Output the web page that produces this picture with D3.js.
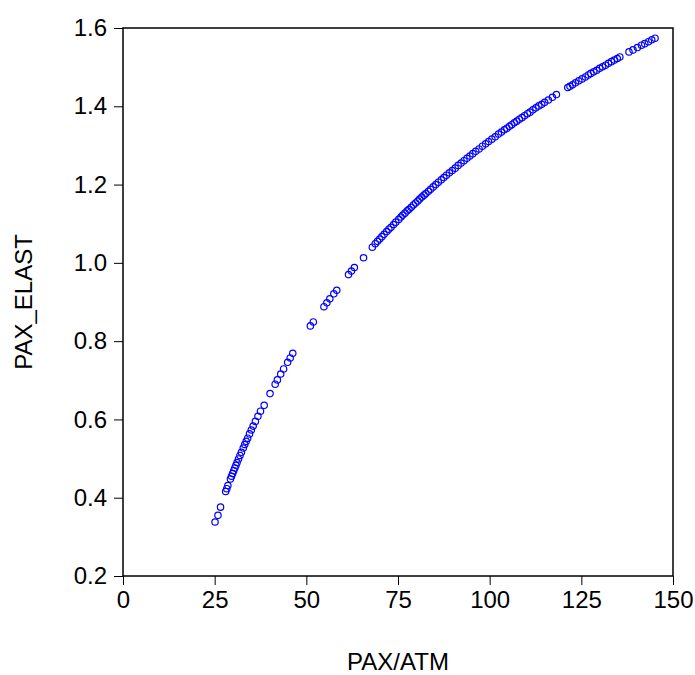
<!DOCTYPE html>
<html>
<head>
<meta charset="utf-8">
<script src="https://cdn.jsdelivr.net/npm/d3@7"></script>
<style>
html,body{margin:0;padding:0;background:#fff;}
svg{display:block;}
text{font-family:"Liberation Sans",Arial,sans-serif;}
</style>
</head>
<body>
<svg id="chart" width="695" height="675"></svg>
<script>
const xLabel = "PAX/ATM";
const yLabel = "PAX_ELAST";
const xTicks = [0, 25, 50, 75, 100, 125, 150];
const yTicks = [0.2, 0.4, 0.6, 0.8, 1.0, 1.2, 1.4, 1.6];
const paxAtm = [
  25.1, 25.9, 26.6, 28.0, 28.3, 28.6, 29.3, 29.6, 29.9, 30.2, 30.5, 30.8, 31.1, 31.5, 31.9, 32.3,
  32.8, 33.2, 33.6, 34.0, 34.5, 35.0, 35.5, 36.1, 36.8, 37.5, 38.5, 40.1, 41.5, 42.1, 43.0, 43.8,
  44.9, 45.6, 46.3, 51.1, 51.9, 54.8, 55.6, 56.4, 57.5, 58.3, 61.5, 62.3, 63.1, 65.6,
  68.0, 68.8, 69.4, 70.0, 70.6, 71.2, 71.9, 72.5, 73.1, 73.8, 74.4, 75.2, 75.8, 76.3, 76.9, 77.5,
  78.0, 78.6, 79.2, 79.8, 80.4, 80.9, 81.5, 82.1, 82.6, 83.3, 83.9, 84.6, 85.3, 86.0, 86.8, 87.5,
  88.2, 89.0, 89.8, 90.6, 91.4, 92.2, 93.0, 93.8, 94.6, 95.4, 96.2, 97.1, 98.0, 98.9, 99.7, 100.6,
  101.5, 102.4, 103.2, 104.0, 104.7, 105.4, 106.0, 106.7, 107.4, 108.1, 108.8, 109.5, 110.3, 111.0,
  111.8, 112.6, 113.4, 114.2, 115.0, 116.0, 117.1, 118.2, 121.3, 121.9, 122.6, 123.4, 124.3, 125.2,
  126.1, 126.9, 127.6, 128.4, 129.2, 130.0, 130.8, 131.6, 132.4, 133.2, 134.0, 134.8, 135.5,
  138.0, 139.1, 140.3, 141.4, 142.3, 143.3, 144.2, 145.1
];
const paxElast = [
  0.338, 0.355, 0.376, 0.416, 0.423, 0.431, 0.448, 0.455, 0.462, 0.469, 0.476, 0.483, 0.490, 0.499, 0.508, 0.516,
  0.527, 0.536, 0.544, 0.552, 0.563, 0.573, 0.583, 0.595, 0.608, 0.621, 0.636, 0.666, 0.690, 0.701, 0.716, 0.729,
  0.746, 0.757, 0.769, 0.839, 0.849, 0.888, 0.898, 0.908, 0.921, 0.930, 0.970, 0.979, 0.988, 1.013,
  1.040, 1.049, 1.055, 1.061, 1.067, 1.073, 1.080, 1.086, 1.091, 1.098, 1.104, 1.111, 1.117, 1.122, 1.127, 1.133,
  1.137, 1.142, 1.148, 1.153, 1.158, 1.163, 1.168, 1.173, 1.177, 1.183, 1.188, 1.194, 1.200, 1.206, 1.212, 1.218,
  1.224, 1.230, 1.236, 1.242, 1.249, 1.255, 1.261, 1.267, 1.273, 1.279, 1.285, 1.291, 1.298, 1.304, 1.310, 1.316,
  1.322, 1.329, 1.334, 1.340, 1.344, 1.349, 1.353, 1.358, 1.362, 1.367, 1.371, 1.376, 1.381, 1.385,
  1.391, 1.396, 1.401, 1.405, 1.410, 1.416, 1.423, 1.430, 1.448, 1.451, 1.455, 1.460, 1.465, 1.470,
  1.475, 1.480, 1.484, 1.488, 1.492, 1.497, 1.501, 1.505, 1.510, 1.514, 1.518, 1.522, 1.526,
  1.539, 1.544, 1.550, 1.556, 1.560, 1.565, 1.570, 1.574
];

const margin = {left: 123, top: 28, right: 22, bottom: 99};
const W = 695, H = 675;
const iw = W - margin.left - margin.right;
const ih = H - margin.top - margin.bottom;

const svg = d3.select("#chart");
const g = svg.append("g").attr("transform", `translate(${margin.left},${margin.top})`);

const x = d3.scaleLinear().domain([0, 150]).range([0, iw]);
const y = d3.scaleLinear().domain([0.2, 1.6]).range([ih, 0]);

const FS = "24px";

const xAxis = g.append("g").attr("transform", `translate(0,${ih})`)
  .call(d3.axisBottom(x).tickValues(xTicks).tickSize(9).tickPadding(6).tickFormat(d3.format("d")));
const yAxis = g.append("g")
  .call(d3.axisLeft(y).tickValues(yTicks).tickSize(9).tickPadding(7).tickFormat(d3.format(".1f")));

[xAxis, yAxis].forEach(a => {
  a.select(".domain").remove();
  a.selectAll("line").attr("stroke", "#000").attr("stroke-width", 1);
  a.selectAll("text").attr("fill", "#000").style("font-size", FS)
    .style("font-family", '"Liberation Sans", Arial, sans-serif');
});

g.append("rect").attr("x", 0).attr("y", 0).attr("width", iw).attr("height", ih)
  .attr("fill", "none").attr("stroke", "#000").attr("stroke-width", 1.5);

const pts = paxAtm.map((v, i) => ({x: v, y: paxElast[i]}));
g.append("g").selectAll("circle").data(pts).join("circle")
  .attr("cx", d => x(d.x)).attr("cy", d => y(d.y)).attr("r", 3.2)
  .attr("fill", "none").attr("stroke", "#0000ff").attr("stroke-width", 1.2);

svg.append("text").attr("x", margin.left + iw / 2).attr("y", 670)
  .attr("text-anchor", "middle").style("font-size", FS).attr("fill", "#000").text(xLabel);
svg.append("text").attr("transform", `translate(32,${margin.top + ih / 2}) rotate(-90)`)
  .attr("text-anchor", "middle").style("font-size", FS).attr("fill", "#000").text(yLabel);
</script>
</body>
</html>
